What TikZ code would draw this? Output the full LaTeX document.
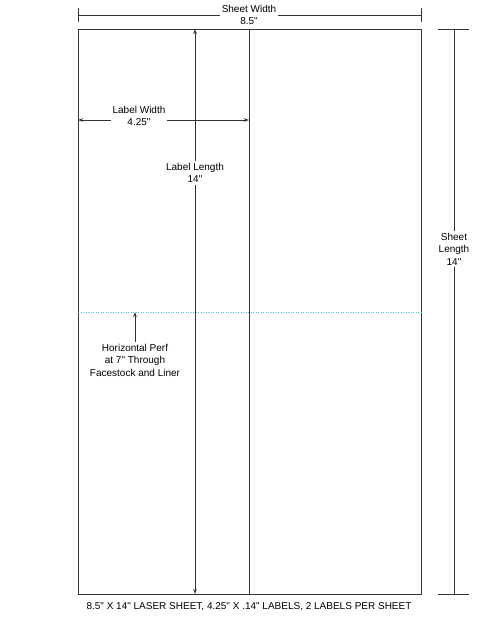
\documentclass[tikz,border=0pt]{standalone}
\usepackage{fontspec}
\setmainfont{Liberation Sans}[Ligatures=TeXOff]
\usetikzlibrary{arrows.meta}
\definecolor{ln}{HTML}{333333}
\definecolor{perf}{HTML}{4FC3D6}
\tikzset{
  ln/.style={draw=ln, line width=1pt},
  dimtext/.style={font=\fontsize{10}{12.5}\selectfont, align=center, inner sep=1.5pt, text=black},
  arr/.style={ln, -{Stealth[length=5pt,width=3.5pt]}},
}
\begin{document}
\begin{tikzpicture}[x=1pt,y=-1pt]
\useasboundingbox (0,0) rectangle (500,619);
% sheet
\coordinate (tl) at (78,29);
\coordinate (br) at (421,594);
\coordinate (mt) at (249,29);
\coordinate (mb) at (249,594);
\draw[ln] (tl) rectangle (br);
\draw[ln] (mt) -- (mb);
% perforation
\coordinate (pl) at (78,312);
\coordinate (pr) at (421,312);
\draw[perf, line width=1pt, dash pattern=on 1pt off 1.5pt] (pl) -- (pr);
% sheet width
\node[dimtext] (sw) at (249,15) {Sheet Width\\8.5"};
\coordinate (swl) at (78,15);
\coordinate (swr) at (421,15);
\draw[ln] (78,8) -- (78,22);
\draw[ln] (421,8) -- (421,22);
\draw[ln] (swl) -- (swl -| sw.west);
\draw[ln] (sw.east |- swr) -- (swr);
% label width
\node[dimtext] (lw) at (139,116) {Label Width\\4.25"};
\coordinate (lwl) at (78,120);
\coordinate (lwr) at (249,120);
\draw[arr] (lw.west |- lwl) -- (lwl);
\draw[arr] (lw.east |- lwr) -- (lwr);
% label length
\node[dimtext] (ll) at (195,173) {Label Length\\14"};
\coordinate (llt) at (195,29);
\coordinate (llb) at (195,594);
\draw[arr] (ll.north) -- (llt);
\draw[arr] (ll.south) -- (llb);
% sheet length
\node[dimtext] (sl) at (454,249) {Sheet\\Length\\14"};
\coordinate (slt) at (454,29);
\coordinate (slb) at (454,594);
\draw[ln] (438,29) -- (469,29);
\draw[ln] (438,594) -- (469,594);
\draw[ln] (sl.north) -- (slt);
\draw[ln] (sl.south) -- (slb);
% perf note
\node[dimtext] (pn) at (135,360) {Horizontal Perf\\at 7" Through\\Facestock and Liner};
\coordinate (pa) at (135,312);
\draw[arr] (pn.north) -- (pa);
% caption
\node[dimtext] (cap) at (249,607) {8.5" X 14" LASER SHEET, 4.25" X .14" LABELS, 2 LABELS PER SHEET};
\end{tikzpicture}
\end{document}
